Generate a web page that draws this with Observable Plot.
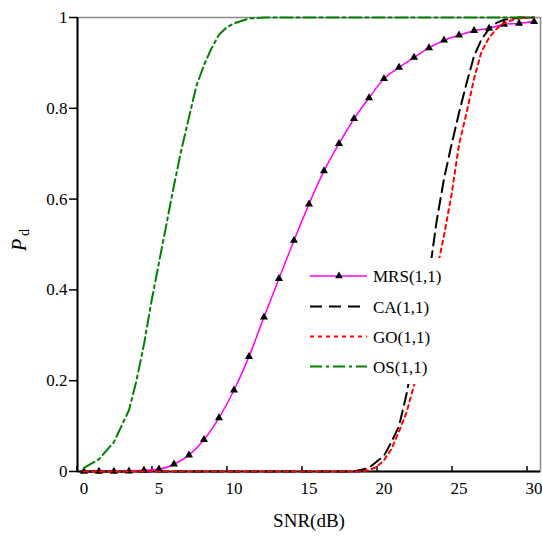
<!DOCTYPE html>
<html><head><meta charset="utf-8">
<script src="https://cdn.jsdelivr.net/npm/d3@7"></script>
<script src="https://cdn.jsdelivr.net/npm/@observablehq/plot@0.6"></script>
<style>body{margin:0;background:#fff} #chart{position:relative;width:542px;height:538px}</style>
</head><body><div id="chart"></div>
<script>
// ---- data ----
const xTicks = [0, 5, 10, 15, 20, 25, 30];
const yTicks = [0, 0.2, 0.4, 0.6, 0.8, 1];
const xLabel = "SNR(dB)";
const seriesNames = ["MRS(1,1)", "CA(1,1)", "GO(1,1)", "OS(1,1)"];

const mrsSnr = [0,1,2,3,4,5,6,7,8,9,10,11,12,13,14,15,16,17,18,19,20,21,22,23,24,25,26,27,28,29,30];
const mrsPd  = [0,0,0,0.001,0.003,0.005,0.016,0.036,0.07,0.118,0.179,0.253,0.34,0.425,0.509,0.589,0.662,0.722,0.777,0.823,0.865,0.89,0.912,0.933,0.95,0.961,0.971,0.976,0.985,0.987,0.991];

const caSnr = [0,18,19,20,20.5,21,21.5,22,22.5,23,23.5,24,24.5,25,25.5,26,26.5,27,27.5,28,29,30];
const caPd  = [0,0,0.008,0.035,0.065,0.1,0.17,0.26,0.35,0.43,0.55,0.645,0.72,0.79,0.855,0.915,0.952,0.975,0.988,0.995,1,1];

const goSnr = [0,18.5,19,19.5,20,20.5,21,21.5,22,22.5,23,23.5,24,24.5,25,25.5,26,26.5,27,27.5,28,28.5,29,30];
const goPd  = [0,0,0.003,0.01,0.025,0.05,0.088,0.13,0.19,0.27,0.35,0.44,0.52,0.61,0.72,0.79,0.865,0.925,0.955,0.975,0.988,0.994,0.998,1];

const osSnr = [0,1,2,3,3.5,4,4.5,5,5.5,6,6.5,7,7.5,8,8.5,9,9.5,10,11,12,20,30];
const osPd  = [0.008,0.027,0.065,0.135,0.2,0.28,0.375,0.46,0.545,0.63,0.71,0.78,0.85,0.895,0.932,0.962,0.978,0.987,0.998,1,1,1];

// ---- build ----
const rows = (xs, ys) => xs.map((x, i) => ({snr: x, pd: ys[i]}));
const mrs = rows(mrsSnr, mrsPd), ca = rows(caSnr, caPd), go = rows(goSnr, goPd), os = rows(osSnr, osPd);
const xDomain = [-0.43, 30.43];
const FONT = "'Liberation Serif', 'Times New Roman', serif";

const svg = Plot.plot({
  width: 542, height: 538,
  marginLeft: 77, marginRight: 2, marginTop: 17, marginBottom: 67,
  style: {fontFamily: FONT, fontSize: "17px", background: "#fff", color: "#000", overflow: "visible"},
  x: {domain: xDomain},
  y: {domain: [0, 1]},
  marks: [
    Plot.frame({stroke: "#8a8a8a", strokeWidth: 1.5}),
    Plot.axisY({ticks: yTicks, tickFormat: d => String(d), tickSize: 8, tickPadding: 2, label: null, fontSize: 17, strokeWidth: 1.5}),
    Plot.axisX({ticks: xTicks, tickFormat: d => String(d), tickSize: 0, tickPadding: 10, label: null, fontSize: 17}),
    Plot.ruleX(xTicks, {x: d => d, y1: 0, y2: 0, insetTop: -5, dx: -7, stroke: "#000", strokeWidth: 1.5}),
    Plot.ruleY([0], {stroke: "#000", strokeWidth: 2}),
    Plot.ruleX([xDomain[0]], {stroke: "#000", strokeWidth: 2}),
    Plot.line(mrs, {x: "snr", y: "pd", stroke: "#ff00ff", strokeWidth: 1.5, curve: "monotone-x"}),
    Plot.dot(mrs, {x: "snr", y: "pd", symbol: "triangle", r: 3, fill: "#000"}),
    Plot.line(ca, {x: "snr", y: "pd", stroke: "#000", strokeWidth: 2, strokeDasharray: "12,6"}),
    Plot.line(go, {x: "snr", y: "pd", stroke: "#ff0000", strokeWidth: 2, strokeDasharray: "4,4"}),
    Plot.line(os, {x: "snr", y: "pd", stroke: "#008000", strokeWidth: 2, strokeDasharray: "12,4,3,4"}),
    Plot.text([xLabel], {frameAnchor: "bottom", dy: 55, fontSize: 19})
  ]
});
document.getElementById("chart").appendChild(svg);

const s = d3.select(svg);
// y label: P_d
const yl = s.append("text").attr("transform", "translate(26,240) rotate(-90)")
  .attr("text-anchor", "middle").attr("fill", "#000").attr("font-family", FONT);
yl.append("tspan").attr("font-style", "italic").attr("font-size", 20).text("P");
yl.append("tspan").attr("font-size", 14).attr("dx", 3).attr("dy", 3).text("d");

// legend
const lg = s.append("g").attr("font-family", FONT);
lg.append("rect").attr("x", 303).attr("y", 258).attr("width", 147).attr("height", 126).attr("fill", "#fff");
const styles = [
  {stroke: "#ff00ff", w: 1.5, dash: null, marker: true},
  {stroke: "#000", w: 2, dash: "12,7"},
  {stroke: "#ff0000", w: 2, dash: "4,4"},
  {stroke: "#008000", w: 2, dash: "12,4,3,4"}
];
const ly = [276, 306.5, 336.5, 366.5];
seriesNames.forEach((name, i) => {
  const st = styles[i];
  lg.append("line").attr("x1", 310).attr("x2", 367).attr("y1", ly[i]).attr("y2", ly[i])
    .attr("stroke", st.stroke).attr("stroke-width", st.w).attr("stroke-dasharray", st.dash);
  if (st.marker) lg.append("path").attr("d", d3.symbol(d3.symbolTriangle, 26)()).attr("transform", `translate(339,${ly[i]})`).attr("fill", "#000");
  lg.append("text").attr("x", 373).attr("y", ly[i] + 6).attr("text-anchor", "start")
    .attr("font-size", 17).attr("fill", "#000").text(name);
});
</script>
</body></html>
